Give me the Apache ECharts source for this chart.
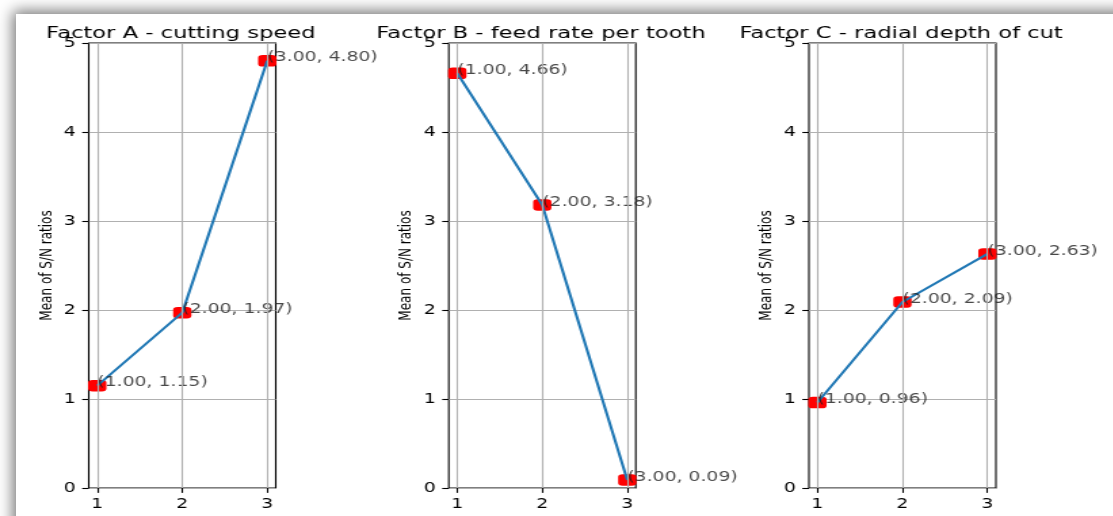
<!DOCTYPE html>
<html><head><meta charset="utf-8">
<script src="https://cdn.jsdelivr.net/npm/echarts@6/dist/echarts.min.js"></script>
<style>
html,body{margin:0;padding:0;background:#fff;width:1113px;height:516px;overflow:hidden;position:relative}
#sheet{position:absolute;left:16px;top:14px;width:1200px;height:600px;background:#fff;box-shadow:0 0 14px 3px rgba(0,0,0,0.55)}
#chart{position:absolute;left:0;top:0;width:821.4px;height:516px;transform:scaleX(1.355);transform-origin:0 0}
</style></head><body>
<div id="sheet"></div><div id="chart"></div>
<script>
const levels = [1, 2, 3];
const factorA = [1.15, 1.97, 4.80];
const factorB = [4.66, 3.18, 0.09];
const factorC = [0.96, 2.09, 2.63];
const titles = ['Factor A - cutting speed', 'Factor B - feed rate per tooth', 'Factor C - radial depth of cut'];
const xTicks = [1, 2, 3];
const yMin = 0, yMax = 5, yStep = 1;
const yLabel = 'Mean of S/N ratios';

const seriesValues = [factorA, factorB, factorC];
const lefts = [65.5, 331.2, 597];
const W = 138, TOP = 43, H = 445;
const FONT = 'DejaVu Sans';
const TXT = '#000';

const chart = echarts.init(document.getElementById('chart'), null, {renderer: 'canvas'});
const option = {
  animation: false,
  backgroundColor: 'transparent',
  title: titles.map((t, i) => ({
    text: t, left: lefts[i] + W / 2 - 1, top: 25, textAlign: 'center', padding: 0,
    textStyle: {fontFamily: FONT, fontSize: 16.7, fontWeight: 'normal', color: TXT}
  })),
  grid: lefts.map(l => ({left: l, top: TOP, width: W, height: H, show: true, borderColor: '#000', borderWidth: 1.1, backgroundColor: 'transparent', containLabel: false})),
  xAxis: lefts.map((l, i) => ({
    type: 'value', gridIndex: i, min: 0.9, max: 3.1,
    axisLine: {show: false},
    axisTick: {show: true, length: 4.86, customValues: xTicks, lineStyle: {color: '#000', width: 1.1}},
    axisLabel: {show: true, customValues: xTicks, margin: 9.5, fontFamily: FONT, fontSize: 13.9, color: TXT, formatter: v => String(Math.round(v))},
    splitLine: {show: false}
  })),
  yAxis: lefts.map((l, i) => ({
    type: 'value', gridIndex: i, min: yMin, max: yMax, interval: yStep,
    name: yLabel, nameLocation: 'middle', nameGap: 25,
    nameTextStyle: {fontFamily: FONT, fontSize: 12, color: TXT},
    axisLine: {show: false},
    axisTick: {show: true, length: 4.86, lineStyle: {color: '#000', width: 1.1}},
    axisLabel: {margin: 9.7, fontFamily: FONT, fontSize: 13.9, color: TXT},
    splitLine: {show: true, lineStyle: {color: '#b0b0b0', width: 1.1}}
  })),
  series: []
};
seriesValues.forEach((vals, i) => {
  const pts = levels.map((x, k) => [x, vals[k]]);
  option.series.push({
    type: 'line', xAxisIndex: i, yAxisIndex: i, data: pts, showSymbol: false, silent: true, z: 0,
    lineStyle: {width: 0, opacity: 0},
    markLine: {silent: true, symbol: 'none', label: {show: false},
      lineStyle: {color: '#b0b0b0', width: 1.1, type: 'solid'},
      data: xTicks.map(x => ({xAxis: x}))}
  });
  option.series.push({
    type: 'scatter', xAxisIndex: i, yAxisIndex: i, data: pts, z: 2,
    symbol: 'roundRect', symbolSize: [13.5, 11.5],
    itemStyle: {color: '#ff0000', opacity: 1}
  });
  option.series.push({
    type: 'line', xAxisIndex: i, yAxisIndex: i, data: pts, z: 3, showSymbol: false,
    lineStyle: {color: '#1f77b4', width: 2.1}
  });
  option.series.push({
    type: 'scatter', xAxisIndex: i, yAxisIndex: i, data: pts, z: 4,
    symbol: 'rect', symbolSize: 1, itemStyle: {color: 'transparent'},
    label: {show: true, position: [0.5, -2.5], align: 'left', verticalAlign: 'middle',
      fontFamily: FONT, fontSize: 13.9, color: '#1a1a1a',
      formatter: p => '(' + p.value[0].toFixed(2) + ', ' + p.value[1].toFixed(2) + ')'}
  });
});
chart.setOption(option);
</script></body></html>
